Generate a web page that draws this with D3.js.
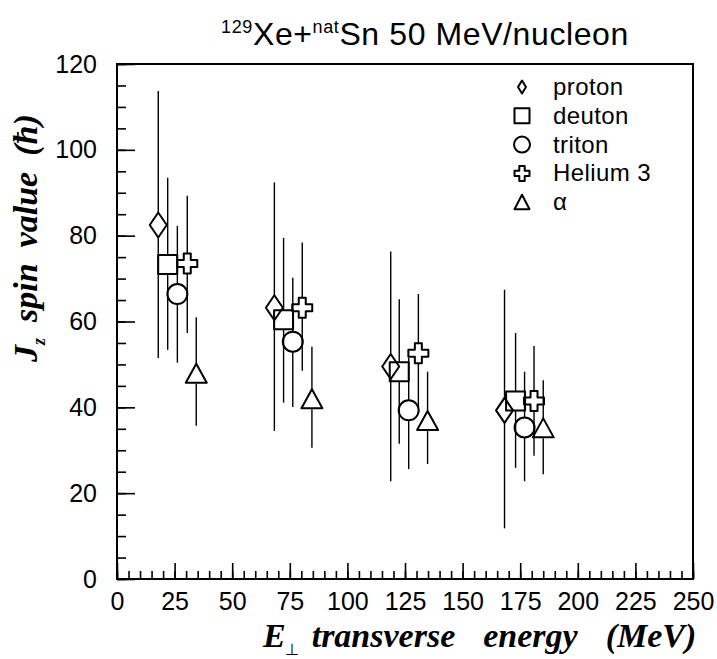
<!DOCTYPE html>
<html>
  <head>
    <meta charset="utf-8">
    <title>Jz spin value</title>
    <script src="https://cdn.jsdelivr.net/npm/d3@7/dist/d3.min.js"></script>
    <style>
      body { margin: 0; background: #fff; }
      svg { display: block; }
    </style>
  </head>
  <body>
    <script>
      var width = 717;
      var height = 659;

      // [E_perp, Jz, low end of error bar, high end of error bar]
      var proton = [[17.9, 82.5, 51.5, 113.7], [68.3, 63.2, 34.5, 92.4], [118.8, 49.5, 22.8, 76.3], [168.2, 39.3, 11.8, 67.4]];
      var deuton = [[22.0, 73.3, 53.4, 93.5], [72.3, 60.4, 41.1, 79.5], [122.5, 48.3, 31.5, 65.2], [173.0, 41.5, 25.9, 57.3]];
      var triton = [[26.2, 66.4, 50.4, 82.3], [76.3, 55.3, 40.1, 70.2], [126.6, 39.3, 25.6, 51.5], [176.9, 35.3, 22.8, 48.3]];
      var helium3 = [[30.5, 73.5, 57.3, 89.3], [80.4, 63.2, 48.5, 78.4], [130.8, 52.6, 40.0, 66.4], [181.0, 41.5, 28.7, 54.3]];
      var alpha = [[34.4, 47.8, 35.7, 61.0], [84.6, 41.9, 30.6, 54.1], [134.8, 36.8, 26.8, 48.3], [185.0, 35.1, 24.4, 46.3]];

      var legendLabels = ["proton", "deuton", "triton", "Helium 3", "\u03b1"];
      var xTicks = [0, 25, 50, 75, 100, 125, 150, 175, 200, 225, 250];
      var yTicks = [0, 20, 40, 60, 80, 100, 120];

      // marker shapes, drawn round (0,0); half is the half-height used to break the error bar
      var shapes = {
        diamond: { path: "M0,-12.5L8.5,0L0,12.5L-8.5,0Z", half: 12.5 },
        square: { path: "M-9.5,-9.5H9.5V9.5H-9.5Z", half: 9.5 },
        circle: { path: "M10,0A10,10 0 1,1 -10,0A10,10 0 1,1 10,0Z", half: 10 },
        cross: { path: "M-3.5,-10H3.5V-3.5H10V3.5H3.5V10H-3.5V3.5H-10V-3.5H-3.5Z", half: 10 },
        triangle: { path: "M0,-10L10.5,9L-10.5,9Z", half: 10 }
      };
      var legendShapes = {
        diamond: "M0,-6.5L4,0L0,6.5L-4,0Z",
        square: "M-7.5,-7.5H7.5V7.5H-7.5Z",
        circle: "M8,0A8,8 0 1,1 -8,0A8,8 0 1,1 8,0Z",
        cross: "M-2.7,-7.5H2.7V-2.7H7.5V2.7H2.7V7.5H-2.7V2.7H-7.5V-2.7H-2.7Z",
        triangle: "M0,-7.5L7.5,7L-7.5,7Z"
      };

      var series = [
        { name: legendLabels[0], data: proton, shape: "diamond" },
        { name: legendLabels[1], data: deuton, shape: "square" },
        { name: legendLabels[2], data: triton, shape: "circle" },
        { name: legendLabels[3], data: helium3, shape: "cross" },
        { name: legendLabels[4], data: alpha, shape: "triangle" }
      ];

      var plot = { left: 117, right: 693, top: 64, bottom: 579 };

      var svg = d3.select("body").append("svg").attr("width", width).attr("height", height);

      var xScale = d3.scaleLinear().domain([0, 250]).range([plot.left, plot.right]);
      var yScale = d3.scaleLinear().domain([0, 120]).range([plot.bottom, plot.top]);

      var sans = "'Liberation Sans', Arial, Helvetica, sans-serif";
      var serif = "'Liberation Serif', 'Times New Roman', serif";

      // 目盛り (ticks point into the frame)
      svg.append("g")
        .attr("transform", "translate(0," + plot.bottom + ")")
        .call(d3.axisBottom(xScale).tickValues(d3.range(0, 251, 5)).tickSize(-8).tickFormat(""))
        .call(g => g.select(".domain").remove());
      svg.append("g")
        .attr("transform", "translate(0," + plot.bottom + ")")
        .call(d3.axisBottom(xScale).tickValues(xTicks).tickSize(-16).tickPadding(26).tickFormat(d3.format("d")))
        .call(g => g.select(".domain").remove())
        .call(g => g.selectAll("text").attr("font-size", 25).attr("font-family", sans).attr("fill", "#000").attr("dy", "0.2em"));

      svg.append("g")
        .attr("transform", "translate(" + plot.left + ",0)")
        .call(d3.axisLeft(yScale).tickValues(d3.range(0, 121, 5)).tickSize(-9).tickFormat(""))
        .call(g => g.select(".domain").remove());
      svg.append("g")
        .attr("transform", "translate(" + plot.left + ",0)")
        .call(d3.axisLeft(yScale).tickValues(yTicks).tickSize(-18).tickPadding(20).tickFormat(d3.format("d")))
        .call(g => g.select(".domain").remove())
        .call(g => g.selectAll("text").attr("font-size", 25).attr("font-family", sans).attr("fill", "#000"));

      svg.selectAll(".tick line").attr("stroke", "#000").attr("stroke-width", 1.6);

      // frame
      svg.append("rect")
        .attr("x", plot.left).attr("y", plot.top)
        .attr("width", plot.right - plot.left).attr("height", plot.bottom - plot.top)
        .attr("fill", "none").attr("stroke", "#000").attr("stroke-width", 2);

      // error bars, broken where the marker sits
      var bars = svg.append("g").attr("stroke", "#000").attr("stroke-width", 1.4);
      series.forEach(function (s) {
        var half = shapes[s.shape].half;
        bars.selectAll(null).data(s.data).enter().append("line")
          .attr("x1", d => xScale(d[0])).attr("x2", d => xScale(d[0]))
          .attr("y1", d => yScale(d[3])).attr("y2", d => yScale(d[1]) - half);
        bars.selectAll(null).data(s.data).enter().append("line")
          .attr("x1", d => xScale(d[0])).attr("x2", d => xScale(d[0]))
          .attr("y1", d => yScale(d[1]) + half).attr("y2", d => yScale(d[2]));
      });

      // markers
      var marks = svg.append("g").attr("fill", "none").attr("stroke", "#000").attr("stroke-width", 2);
      series.forEach(function (s) {
        marks.selectAll(null).data(s.data).enter().append("path")
          .attr("d", shapes[s.shape].path)
          .attr("stroke-linejoin", "round")
          .attr("transform", d => "translate(" + xScale(d[0]) + "," + yScale(d[1]) + ")");
      });

      // legend
      var legend = svg.append("g").attr("transform", "translate(522,87)");
      var rows = legend.selectAll("g").data(series).enter().append("g")
        .attr("transform", (d, i) => "translate(0," + (i * 28.8) + ")");
      rows.append("path")
        .attr("d", d => legendShapes[d.shape])
        .attr("fill", "none").attr("stroke", "#000").attr("stroke-width", 2).attr("stroke-linejoin", "round");
      rows.append("text")
        .attr("x", 31).attr("y", 8)
        .attr("font-family", sans).attr("font-size", 24)
        .attr("letter-spacing", 0.4)
        .text(d => d.name);

      // title
      var title = svg.append("text")
        .attr("x", 425).attr("y", 45)
        .attr("text-anchor", "middle")
        .attr("font-family", sans).attr("font-size", 32)
        .attr("letter-spacing", 0.6);
      title.append("tspan").attr("font-size", 18).attr("dy", -12).text("129");
      title.append("tspan").attr("dy", 12).text("Xe+");
      title.append("tspan").attr("font-size", 18).attr("dy", -12).text("nat");
      title.append("tspan").attr("dy", 12).text("Sn 50 MeV/nucleon");

      // x axis title
      var xt = svg.append("text")
        .attr("x", 263).attr("y", 647)
        .attr("font-family", serif).attr("font-size", 34)
        .attr("font-weight", "bold").attr("font-style", "italic");
      xt.append("tspan").text("E");
      xt.append("tspan").attr("font-size", 16).attr("font-style", "normal").attr("font-weight", "normal")
        .attr("dx", -1).attr("dy", 8).text("\u22a5");
      xt.append("tspan").attr("dx", 13).attr("dy", -8).text("transverse");
      xt.append("tspan").attr("dx", 28).text("energy");
      xt.append("tspan").attr("dx", 28).text("(MeV)");

      // y axis title
      var yt = svg.append("text")
        .attr("transform", "translate(37,362) rotate(-90)")
        .attr("font-family", serif).attr("font-size", 34)
        .attr("font-weight", "bold").attr("font-style", "italic");
      yt.append("tspan").text("J");
      yt.append("tspan").attr("font-size", 18).attr("dy", 8).text("z");
      yt.append("tspan").attr("dx", 16).attr("dy", -8).text("spin");
      yt.append("tspan").attr("dx", 16).text("value");
      yt.append("tspan").attr("dx", 16).text("(\u0127)");
    </script>
  </body>
</html>
